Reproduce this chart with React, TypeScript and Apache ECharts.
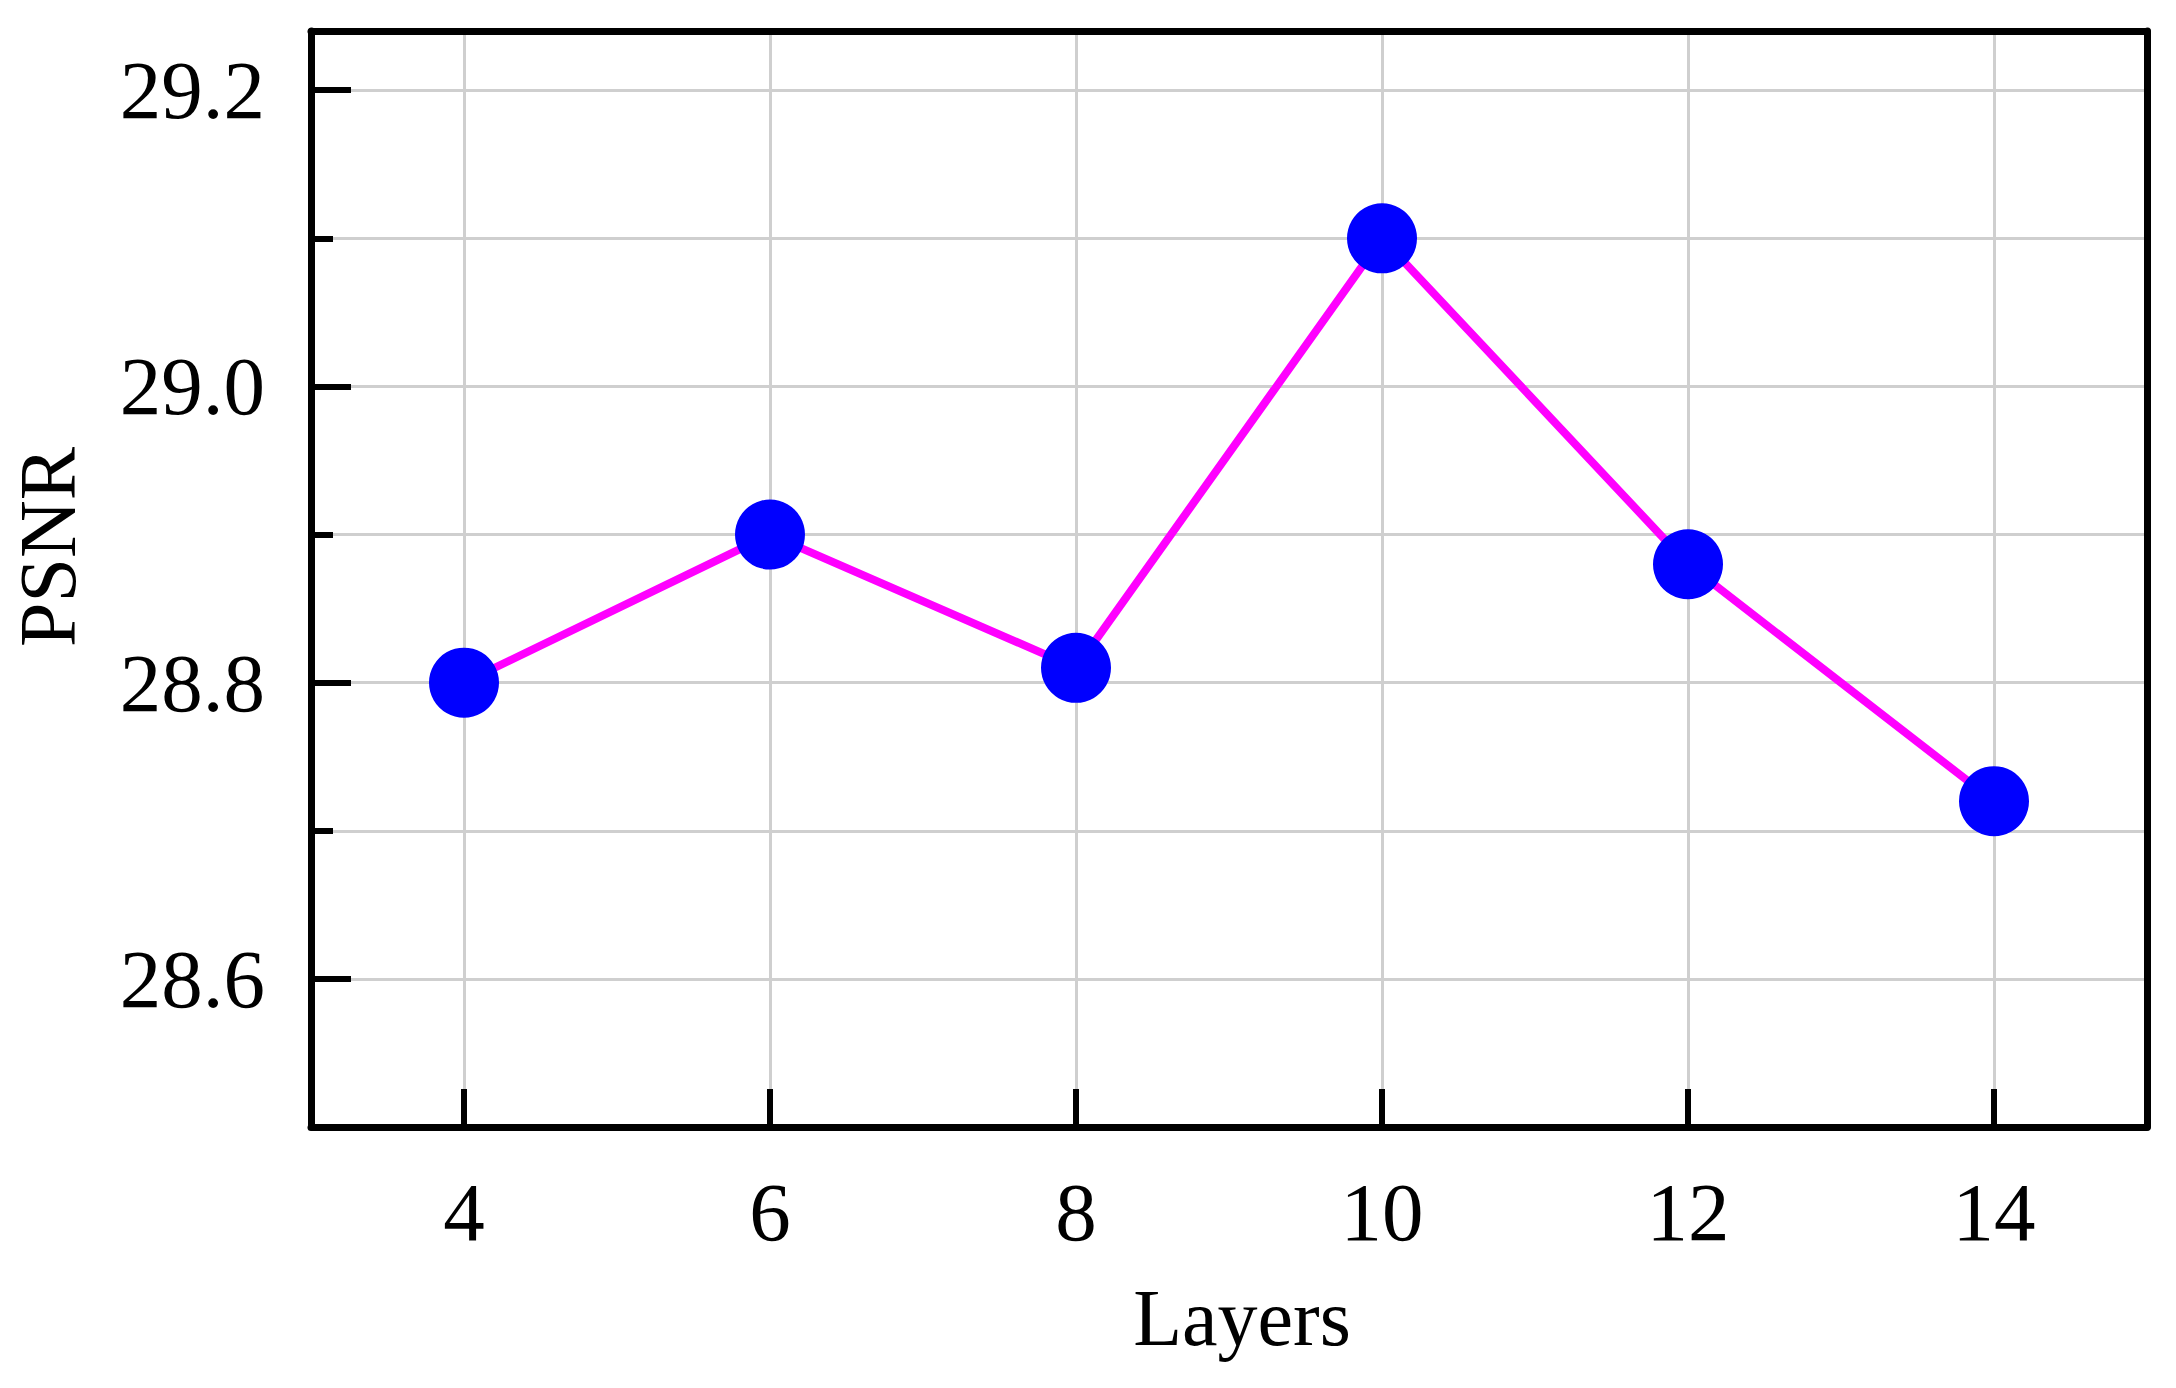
import React, { useEffect, useRef } from "react";
import * as echarts from "echarts";

const layers = [4, 6, 8, 10, 12, 14];
const psnr = [28.8, 28.9, 28.81, 29.1, 28.88, 28.72];
const xTicks = [4, 6, 8, 10, 12, 14];
const yMajorTicks = [28.6, 28.8, 29.0, 29.2];
const yMinorTicks = [28.7, 28.9, 29.1];
const yGridValues = [28.6, 28.7, 28.8, 28.9, 29.0, 29.1, 29.2];

const FONT = '"Liberation Serif", "Times New Roman", serif';

export default function App() {
  const ref = useRef<HTMLDivElement>(null);
  useEffect(() => {
    if (!ref.current) return;
    const chart = echarts.init(ref.current, null, { renderer: "svg" });
    const axisLine = { show: true, lineStyle: { color: "#000", width: 7 } };
    const gridStyle = { color: "#cfcfcf", width: 3, type: "solid" as const };
    chart.setOption({
      animation: false,
      backgroundColor: "#fff",
      grid: { left: 311, right: 29, top: 31, bottom: 261, show: false },
      xAxis: [
        {
          type: "value",
          min: 3,
          max: 15,
          position: "bottom",
          z: 3,
          axisLine,
          splitLine: { show: false },
          axisTick: {
            show: true,
            inside: true,
            length: 38,
            customValues: xTicks,
            lineStyle: { color: "#000", width: 6 },
          },
          axisLabel: {
            show: true,
            customValues: xTicks,
            margin: 43,
            color: "#000",
            fontFamily: FONT,
            fontSize: 83,
          },
        },
        {
          type: "value",
          min: 3,
          max: 15,
          position: "top",
          z: 3,
          axisLine,
          splitLine: { show: false },
          axisTick: { show: false },
          axisLabel: { show: false },
        },
      ],
      yAxis: [
        {
          type: "value",
          min: 28.5,
          max: 29.24,
          position: "left",
          z: 3,
          axisLine,
          splitLine: { show: false },
          axisTick: {
            show: true,
            inside: true,
            length: 40,
            customValues: yMajorTicks,
            lineStyle: { color: "#000", width: 6 },
          },
          axisLabel: {
            show: true,
            customValues: yMajorTicks,
            margin: 46,
            color: "#000",
            fontFamily: FONT,
            fontSize: 83,
            formatter: (v: number) => v.toFixed(1),
          },
        },
        {
          type: "value",
          min: 28.5,
          max: 29.24,
          position: "left",
          z: 3,
          axisLine: { show: false },
          splitLine: { show: false },
          axisTick: {
            show: true,
            inside: true,
            length: 22,
            customValues: yMinorTicks,
            lineStyle: { color: "#000", width: 6 },
          },
          axisLabel: { show: false },
        },
        {
          type: "value",
          min: 28.5,
          max: 29.24,
          position: "right",
          z: 3,
          axisLine,
          splitLine: { show: false },
          axisTick: { show: false },
          axisLabel: { show: false },
        },
      ],
      graphic: [
        {
          type: "text",
          x: 1242,
          y: 1318,
          style: {
            text: "Layers",
            font: `80px ${FONT}`,
            fill: "#000",
            textAlign: "center",
            textVerticalAlign: "middle",
          },
        },
        {
          type: "text",
          x: 48,
          y: 547,
          rotation: Math.PI / 2,
          style: {
            text: "PSNR",
            font: `80px ${FONT}`,
            fill: "#000",
            textAlign: "center",
            textVerticalAlign: "middle",
          },
        },
      ],
      series: [
        {
          type: "line",
          data: [],
          z: 1,
          silent: true,
          markLine: {
            silent: true,
            z: 1,
            symbol: ["none", "none"],
            label: { show: false },
            lineStyle: gridStyle,
            data: [
              ...xTicks.map((v) => ({ xAxis: v })),
              ...yGridValues.map((v) => ({ yAxis: v })),
            ],
          },
        },
        {
          type: "line",
          z: 2,
          data: layers.map((x, i) => [x, psnr[i]]),
          lineStyle: { color: "#ff00ff", width: 8 },
          itemStyle: { color: "#0000ff" },
          symbol: "circle",
          symbolSize: 70,
          showSymbol: true,
        },
      ],
    });
    return () => chart.dispose();
  }, []);
  return (
    <div
      ref={ref}
      style={{ position: "fixed", left: 0, top: 0, width: 2176, height: 1388 }}
    />
  );
}
